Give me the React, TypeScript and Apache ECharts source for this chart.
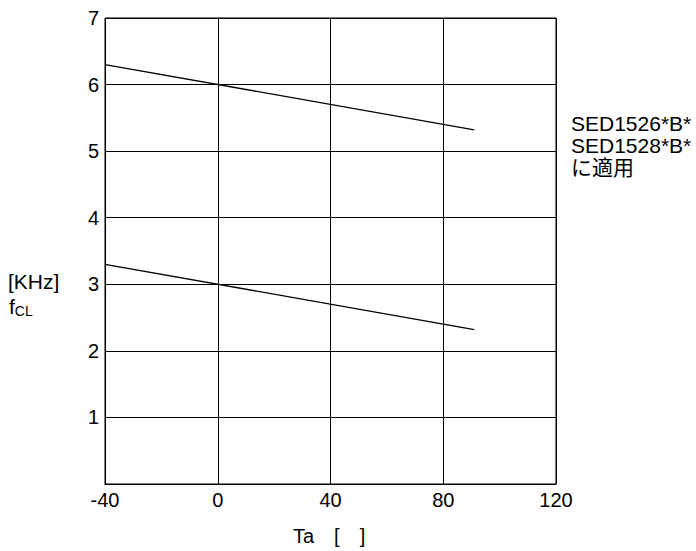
import React, { useEffect, useRef } from "react";
import * as echarts from "echarts";

const xTicks = [-40, 0, 40, 80, 120];
const yTicks = [0, 1, 2, 3, 4, 5, 6, 7];
const upperLine: [number, number][] = [[-40, 6.3], [91, 5.32]];
const lowerLine: [number, number][] = [[-40, 3.3], [91, 2.32]];
const noteLines = ["SED1526*B*", "SED1528*B*", "に適用"];
const yUnit = "[KHz]";
const xTitle = "Ta\u2002\u2002[\u2002\u2002]";

const FONT = "'Liberation Sans', Arial, 'Noto Sans CJK JP', sans-serif";

export default function App() {
  const ref = useRef<HTMLDivElement>(null);
  useEffect(() => {
    if (!ref.current) return;
    const chart = echarts.init(ref.current, undefined, { renderer: "svg" });
    chart.setOption({
      animation: false,
      backgroundColor: "#fff",
      grid: {
        left: 105,
        top: 18,
        right: 140,
        bottom: 67,
        show: true,
        borderColor: "#000",
        borderWidth: 1,
      },
      xAxis: {
        type: "value",
        min: xTicks[0],
        max: xTicks[xTicks.length - 1],
        interval: 40,
        axisLine: { lineStyle: { color: "#000", width: 1 } },
        axisTick: { show: false },
        axisLabel: { color: "#000", fontSize: 20, fontFamily: FONT, margin: 6 },
        splitLine: { show: true, lineStyle: { color: "#000", width: 1 } },
      },
      yAxis: {
        type: "value",
        min: yTicks[0],
        max: yTicks[yTicks.length - 1],
        interval: 1,
        axisLine: { lineStyle: { color: "#000", width: 1 } },
        axisTick: { show: false },
        axisLabel: {
          color: "#000",
          fontSize: 20,
          fontFamily: FONT,
          margin: 6,
          formatter: (v: number) => (v === 0 ? "" : String(v)),
        },
        splitLine: { show: true, lineStyle: { color: "#000", width: 1 } },
      },
      series: [
        {
          type: "line",
          data: upperLine,
          symbol: "none",
          lineStyle: { color: "#000", width: 1.3 },
        },
        {
          type: "line",
          data: lowerLine,
          symbol: "none",
          lineStyle: { color: "#000", width: 1.3 },
        },
      ],
      graphic: [
        {
          type: "text",
          left: 8,
          top: 271,
          style: {
            text: yUnit,
            font: `21px ${FONT}`,
            fill: "#000",
          },
        },
        {
          type: "text",
          left: 9,
          top: 296,
          style: {
            text: "f{sub|CL}",
            font: `21px ${FONT}`,
            fill: "#000",
            rich: {
              sub: { fontSize: 14, fontFamily: FONT, padding: [9, 0, 0, 0], fill: "#000" },
            },
          },
        },
        {
          type: "text",
          left: 571,
          top: 112,
          style: {
            text: noteLines.join("\n"),
            font: `21px ${FONT}`,
            lineHeight: 22,
            fill: "#000",
          },
        },
        {
          type: "text",
          left: 293,
          top: 526,
          style: {
            text: xTitle,
            font: `20px ${FONT}`,
            fill: "#000",
          },
        },
      ],
    });
    return () => chart.dispose();
  }, []);
  return (
    <div
      ref={ref}
      style={{ position: "absolute", left: 0, top: 0, width: 696, height: 551 }}
    />
  );
}
